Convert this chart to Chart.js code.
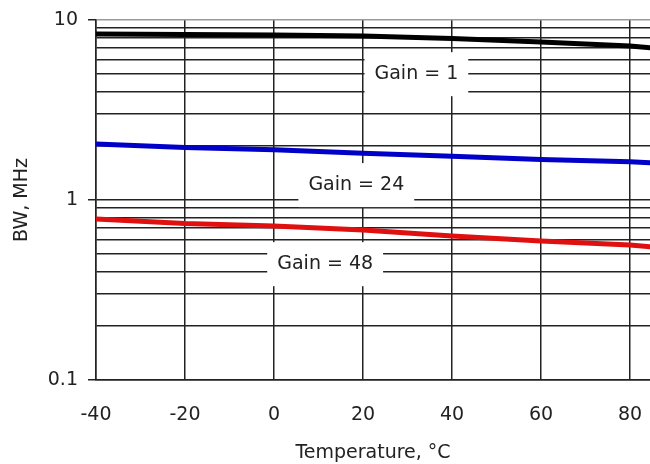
<!DOCTYPE html>
<html>
<head>
<meta charset="utf-8">
<script src="https://cdn.jsdelivr.net/npm/chart.js@4.4.0/dist/chart.umd.min.js"></script>
<style>
  html, body { margin: 0; padding: 0; background: #fff; }
  #wrap { width: 650px; height: 464px; }
</style>
</head>
<body>
<div id="wrap"><canvas id="bwChart" width="650" height="464"></canvas></div>
<script>
// temperature, degC
var temps = [-40, -20, 0, 20, 40, 60, 80, 85]
// bandwidth, MHz
var gain1 = [8.36, 8.30, 8.25, 8.15, 7.89, 7.54, 7.17, 6.99]
var gain24 = [2.05, 1.96, 1.90, 1.82, 1.75, 1.68, 1.63, 1.61]
var gain48 = [0.784, 0.740, 0.717, 0.681, 0.631, 0.592, 0.562, 0.548]

var xTicks = [-40, -20, 0, 20, 40, 60, 80]
var yMajor = [0.1, 1, 10]
var yGrid = [0.1, 0.2, 0.3, 0.4, 0.5, 0.6, 0.7, 0.8, 0.9, 1, 2, 3, 4, 5, 6, 7, 8, 9, 10]

var gainNames = ['Gain = 1', 'Gain = 24', 'Gain = 48']
var gainNameTemp = [32, 18.5, 11.5]
var gainNameBW = [5.0, 1.21, 0.44]

var FONT = { family: '"DejaVu Sans", sans-serif', size: 19 }
var INK = '#222'

function pts(ys){
  return temps.map(function(t, i){ return { x: t, y: ys[i] } })
}

// white boxes with the gain names, placed through the scales
var gainLabelPlugin = {
  id: 'gainLabels',
  beforeDatasetsDraw: function(chart){
    var c = chart.ctx, xs = chart.scales.x, ys = chart.scales.y
    c.save()
    c.font = FONT.size + 'px ' + FONT.family
    c.textAlign = 'center'
    c.textBaseline = 'middle'
    gainNames.forEach(function(name, i){
      var px = xs.getPixelForValue(gainNameTemp[i])
      var py = ys.getPixelForValue(gainNameBW[i])
      var w = c.measureText(name).width + 20
      var h = 44
      c.fillStyle = '#fff'
      c.fillRect(px - w / 2, py - h / 2, w, h)
      c.fillStyle = INK
      c.fillText(name, px, py)
    })
    c.restore()
  }
}

new Chart(document.getElementById('bwChart'), {
  type: 'line',
  data: {
    datasets: [
      { label: 'Gain = 1', data: pts(gain1), borderColor: '#000', borderWidth: 5, pointRadius: 0, tension: 0 },
      { label: 'Gain = 24', data: pts(gain24), borderColor: '#0000c8', borderWidth: 5, pointRadius: 0, tension: 0 },
      { label: 'Gain = 48', data: pts(gain48), borderColor: '#e01010', borderWidth: 5, pointRadius: 0, tension: 0 }
    ]
  },
  options: {
    responsive: false,
    animation: false,
    devicePixelRatio: 1,
    layout: { padding: { top: 20, right: 0, bottom: 0, left: 0 } },
    plugins: { legend: { display: false }, tooltip: { enabled: false } },
    scales: {
      x: {
        type: 'linear',
        min: -40,
        max: 84.5,
        afterBuildTicks: function(s){ s.ticks = xTicks.map(function(v){ return { value: v } }) },
        afterFit: function(s){ s.height = 84; s.paddingLeft = 0; s.paddingRight = 0 },
        ticks: { color: INK, font: FONT, padding: 24, maxRotation: 0, autoSkip: false },
        grid: { color: INK, lineWidth: 1.5, drawTicks: false },
        border: { color: INK, width: 1.5 },
        title: { display: true, text: 'Temperature, °C', color: INK, font: FONT, padding: 0 }
      },
      y: {
        type: 'logarithmic',
        min: 0.1,
        max: 10,
        afterBuildTicks: function(s){ s.ticks = yGrid.map(function(v){ return { value: v } }) },
        afterFit: function(s){ s.width = 96; s.paddingTop = 0; s.paddingBottom = 0 },
        ticks: {
          color: INK, font: FONT, padding: 10, autoSkip: false,
          callback: function(v){ return yMajor.indexOf(v) >= 0 ? String(v) : '' }
        },
        grid: {
          lineWidth: 1.5,
          tickLength: 8,
          color: function(ctx){ return ctx.tick && ctx.tick.value === 10 ? '#999' : INK },
          tickColor: function(ctx){ return ctx.tick && yMajor.indexOf(ctx.tick.value) >= 0 ? INK : 'rgba(0,0,0,0)' }
        },
        border: { color: INK, width: 1.5 },
        title: { display: true, text: 'BW, MHz', color: INK, font: FONT, padding: { top: 11, bottom: 0 } }
      }
    }
  },
  plugins: [gainLabelPlugin]
})
</script>
</body>
</html>
